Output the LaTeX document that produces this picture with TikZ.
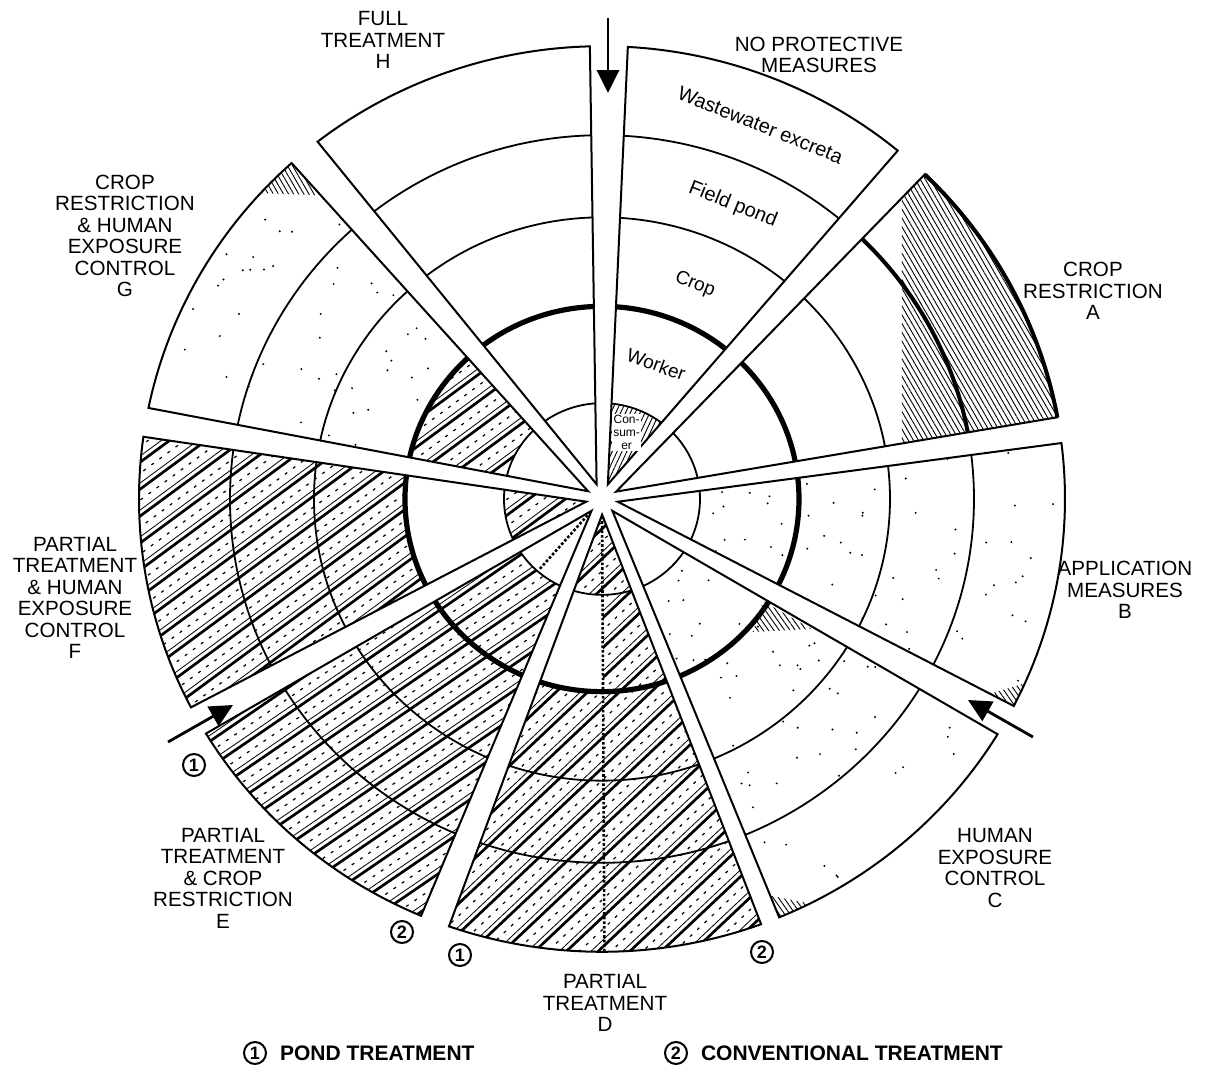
\documentclass[tikz,border=0pt]{standalone}
\usepackage{fontspec}
\setmainfont{Liberation Sans}
\usetikzlibrary{arrows.meta,patterns.meta}

% one wedge of the wheel, from angle #1 to angle #2
\newcommand\wedgepath[2]{({(#1+#2)/2}:16) -- (#1:463) arc[start angle=#1, end angle=#2, radius=463] -- cycle}
% rings of one wedge
\newcommand\ringset{%
  \draw[ringline] (0,0) circle[radius=98] (0,0) circle[radius=288] (0,0) circle[radius=372];
  \draw[thickring] (0,0) circle[radius=197];}
% heavy diagonal hatching (treatment)
\newcommand\hatchlines[1]{%
  \foreach \k in {-22,...,22}{%
    \draw[line width=1.35pt, rotate=#1] (-480,\k*22) -- (480,\k*22);
    \draw[line width=0.4pt, rotate=#1] (-480,\k*22+5) -- (480,\k*22+5);
    \draw[line width=0.6pt, dash pattern=on 1.5pt off 3.5pt, rotate=#1] (-480,\k*22+13) -- (480,\k*22+13);
  }}
% sparse dots
\newcommand\stipple[3]{%
  \foreach \i in {1,...,#3}{%
    \pgfmathsetmacro\sa{#1+rnd*(#2-#1)}
    \pgfmathsetmacro\sr{108+rnd*348}
    \fill (\sa:\sr) circle[radius=1.1];
  }}

\begin{document}
\begin{tikzpicture}[x=0.5pt, y=0.5pt,
    ringline/.style={line width=0.9pt},
    thickring/.style={line width=2.6pt},
    edgeline/.style={line width=1pt, line join=miter},
    seclabel/.style={align=center, font=\fontsize{10.3}{10.75}\selectfont},
    ringtext/.style={font=\fontsize{9.5}{10}\selectfont},
    circnum/.style={circle, draw, line width=1pt, inner sep=0pt, minimum size=11pt,
      font=\bfseries\fontsize{9}{9}\selectfont},
    legendtext/.style={anchor=west, font=\bfseries\fontsize{10.5}{11}\selectfont},
    fineh/.style={pattern={Lines[angle=#1, distance=2.2pt, line width=0.45pt]}},
    bigarrow/.style={line width=1.4pt, -{Triangle[length=11.5pt, width=11pt]}}]

\useasboundingbox (-602,-568) rectangle (621,499);
\pgfmathsetseed{5}

\begin{scope}[yscale=0.978]
  % no protective measures
  \begin{scope}
    \clip \wedgepath{50.3}{86.8};
    \fill[fineh=65] (0,0) circle[radius=98];
    \ringset
  \end{scope}
  \draw[edgeline] \wedgepath{50.3}{86.8};
  \node[ringtext, font=\fontsize{10}{10}\selectfont, rotate=-22] (wasteTxt) at (67.5:414) {Wastewater excreta};
  \node[ringtext, font=\fontsize{10}{10}\selectfont, rotate=-22] (pondTxt) at (66.5:328) {Field pond};
  \node[ringtext, rotate=-22] (cropTxt) at (67:238) {Crop};
  \node[ringtext, rotate=-20] (workerTxt) at (68.5:148) {Worker};
  \node[font=\fontsize{6}{6.5}\selectfont, align=center, fill=white, inner sep=0.6pt]
    (consumerTxt) at (70:72) {Con-\\sum-\\er};

  % A crop restriction
  \begin{scope}
    \clip \wedgepath{10.4}{45.8};
    \fill[fineh=-60] (300,0) rectangle (480,480);
    \ringset
    \draw[line width=2pt] (0,0) circle[radius=372];
  \end{scope}
  \draw[edgeline] \wedgepath{10.4}{45.8};
  \draw[line width=2pt] (10.4:463) arc[start angle=10.4, end angle=45.8, radius=463];

  % B application measures
  \begin{scope}
    \clip \wedgepath{-27.2}{7.1};
    \stipple{-27}{7}{55}
    \fill[fineh=-55] (-27.2:464) -- (-27.2:436) -- (-24:463) -- cycle;
    \ringset
  \end{scope}
  \draw[edgeline] \wedgepath{-27.2}{7.1};

  % C human exposure control
  \begin{scope}
    \clip \wedgepath{-67.5}{-31.3};
    \stipple{-67}{-31}{55}
    \fill[fineh=-55] (-33:192) -- (-32.4:248) -- (-42:203) -- cycle;
    \fill[fineh=-55] (-67.5:465) -- (-67.3:440) -- (-63:465) -- cycle;
    \ringset
  \end{scope}
  \draw[edgeline] \wedgepath{-67.5}{-31.3};

  % D partial treatment
  \begin{scope}
    \clip \wedgepath{-109.3}{-69.9};
    \hatchlines{44}
    \fill[white] (240:98) -- (240:197) arc[start angle=240, end angle=270.3, radius=197]
      -- (270.3:98) arc[start angle=270.3, end angle=240, radius=98] -- cycle;
    \draw[line width=1.3pt, densely dotted] (-89.7:18) -- (-89.7:463);
    \ringset
  \end{scope}
  \draw[edgeline] \wedgepath{-109.3}{-69.9};

  % E partial treatment & crop restriction
  \begin{scope}
    \clip \wedgepath{-148.8}{-113};
    \hatchlines{35}
    \fill[white] (0,0) circle[radius=98];
    \draw[line width=1.3pt, densely dotted] (229:22) -- (229:95);
    \ringset
  \end{scope}
  \draw[edgeline] \wedgepath{-148.8}{-113};

  % F partial treatment & human exposure control
  \begin{scope}
    \clip \wedgepath{172.1}{207.4};
    \hatchlines{37}
    \fill[white, even odd rule] (0,0) circle[radius=197] (0,0) circle[radius=98];
    \ringset
  \end{scope}
  \draw[edgeline] \wedgepath{172.1}{207.4};

  % G crop restriction & human exposure control
  \begin{scope}
    \clip \wedgepath{132.1}{168.4};
    \stipple{132}{168}{65}
    \begin{scope}[even odd rule]
      \clip (0,0) circle[radius=197] (0,0) circle[radius=98];
      \fill[white] (0,0) circle[radius=197];
      \hatchlines{37}
    \end{scope}
    \fill[fineh=-60] (132.1:463) -- (132.3:420) -- (137.5:463) -- cycle;
    \ringset
  \end{scope}
  \draw[edgeline] \wedgepath{132.1}{168.4};

  % H full treatment
  \begin{scope}
    \clip \wedgepath{91.5}{127.9};
    \ringset
  \end{scope}
  \draw[edgeline] \wedgepath{91.5}{127.9};
\end{scope}

% arrows
\coordinate (topTail) at (6,481);
\coordinate (topTip) at (6,406);
\coordinate (rightTail) at (431,-238);
\coordinate (rightTip) at (366,-201);
\coordinate (leftTail) at (-434,-243);
\coordinate (leftTip) at (-369,-206);
\draw[bigarrow] (topTail) -- (topTip);
\draw[bigarrow] (rightTail) -- (rightTip);
\draw[bigarrow] (leftTail) -- (leftTip);

% wedge labels
\node[seclabel] (labelH) at (-219,459) {FULL\\TREATMENT\\H};
\node[seclabel] (labelNP) at (217,444) {NO PROTECTIVE\\MEASURES};
\node[seclabel] (labelA) at (491,208) {CROP\\RESTRICTION\\A};
\node[seclabel] (labelB) at (523,-91) {APPLICATION\\MEASURES\\B};
\node[seclabel] (labelC) at (393,-369) {HUMAN\\EXPOSURE\\CONTROL\\C};
\node[seclabel] (labelD) at (3,-504) {PARTIAL\\TREATMENT\\D};
\node[seclabel] (labelE) at (-379,-379) {PARTIAL\\TREATMENT\\\& CROP\\RESTRICTION\\E};
\node[seclabel] (labelF) at (-527,-99) {PARTIAL\\TREATMENT\\\& HUMAN\\EXPOSURE\\CONTROL\\F};
\node[seclabel] (labelG) at (-477,263) {CROP\\RESTRICTION\\\& HUMAN\\EXPOSURE\\CONTROL\\G};

% pond / conventional marks
\node[circnum] (pondE) at (-408,-266) {1};
\node[circnum] (convE) at (-200,-433) {2};
\node[circnum] (pondD) at (-142,-456) {1};
\node[circnum] (convD) at (160,-453) {2};

% legend
\node[circnum] (legPond) at (-347,-554) {1};
\node[legendtext] (legPondTxt) at ([xshift=3pt]legPond.east) {POND TREATMENT};
\node[circnum] (legConv) at (74,-554) {2};
\node[legendtext] (legConvTxt) at ([xshift=3pt]legConv.east) {CONVENTIONAL TREATMENT};
\end{tikzpicture}
\end{document}
